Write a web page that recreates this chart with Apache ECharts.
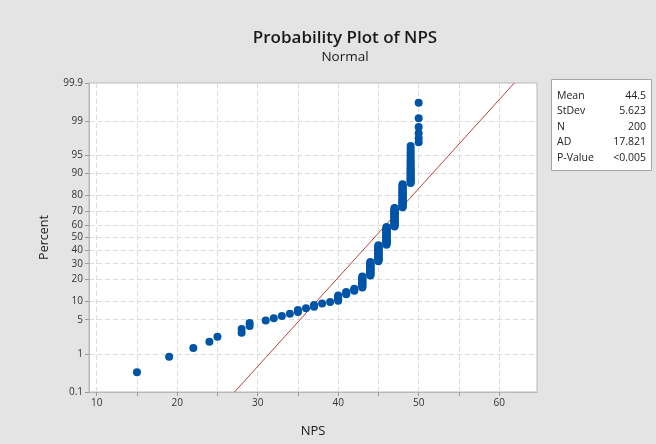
<!DOCTYPE html>
<html><head><meta charset="utf-8">
<script src="https://cdn.jsdelivr.net/npm/echarts@6/dist/echarts.min.js"></script>
<style>html,body{margin:0;padding:0;background:#e4e4e4}#c{width:656px;height:444px}</style>
</head><body><div id="c"></div>
<script>
// ---- data ----
const npsScores = [15,19,22,24,25,28,29,31,32,33,34,35,36,37,38,39,40,41,42,43,44,45,46,47,48,49,50];
const npsCounts = [1,1,1,1,1,2,2,1,1,1,1,2,1,2,1,1,5,3,3,13,19,25,29,28,27,22,6];
const percentTicks = [0.1,1,5,10,20,30,40,50,60,70,80,90,95,99,99.9];
const xTickValues = [10,15,20,25,30,35,40,45,50,55,60];
const xLabelValues = [10,20,30,40,50,60];
const statLabels = ['Mean','StDev','N','AD','P-Value'];
const statValues = ['44.5','5.623','200','17.821','<0.005'];
const fitMean = 44.5;
const fitStDev = 5.623;

// inverse standard normal CDF (Acklam)
function normInv(p){
  const a=[-3.969683028665376e+01,2.209460984245205e+02,-2.759285104469687e+02,1.383577518672690e+02,-3.066479806614716e+01,2.506628277459239e+00];
  const b=[-5.447609879822406e+01,1.615858368580409e+02,-1.556989798598866e+02,6.680131188771972e+01,-1.328068155288572e+01];
  const c=[-7.784894002430293e-03,-3.223964580411365e-01,-2.400758277161838e+00,-2.549732539343734e+00,4.374664141464968e+00,2.938163982698783e+00];
  const d=[7.784695709041462e-03,3.224671290700398e-01,2.445134137142996e+00,3.754408661907416e+00];
  const pl=0.02425, ph=1-pl; let q,r;
  if(p<pl){q=Math.sqrt(-2*Math.log(p));return (((((c[0]*q+c[1])*q+c[2])*q+c[3])*q+c[4])*q+c[5])/((((d[0]*q+d[1])*q+d[2])*q+d[3])*q+1);}
  if(p<=ph){q=p-0.5;r=q*q;return (((((a[0]*r+a[1])*r+a[2])*r+a[3])*r+a[4])*r+a[5])*q/(((((b[0]*r+b[1])*r+b[2])*r+b[3])*r+b[4])*r+1);}
  q=Math.sqrt(-2*Math.log(1-p));return -(((((c[0]*q+c[1])*q+c[2])*q+c[3])*q+c[4])*q+c[5])/((((d[0]*q+d[1])*q+d[2])*q+d[3])*q+1);
}

const n = npsCounts.reduce((s,v)=>s+v,0);
const points = [];
let rank = 0;
npsScores.forEach((s,k)=>{
  for(let j=0;j<npsCounts[k];j++){ rank++; points.push([s, normInv((rank-0.3)/(n+0.4))]); }
});
const yTickZ = percentTicks.map(p=>normInv(p/100));
const zMin = yTickZ[0], zMax = yTickZ[yTickZ.length-1];
const fitLine = [[fitMean+zMin*fitStDev, zMin],[fitMean+zMax*fitStDev, zMax]];

const FONT = '"Open Sans", "Noto Sans", sans-serif';
const chart = echarts.init(document.getElementById('c'), null, {renderer:'canvas'});

const statGraphics = [
  {type:'rect', shape:{x:551.5,y:79.5,width:100,height:91}, style:{fill:'#fff',stroke:'#a6a6a6',lineWidth:1}}
];
statLabels.forEach((l,i)=>{
  statGraphics.push({type:'text', x:557, y:96+i*15.5, style:{text:l, fill:'#222', font:'10.5px '+FONT, textVerticalAlign:'middle', textAlign:'left'}});
  statGraphics.push({type:'text', x:646, y:96+i*15.5, style:{text:statValues[i], fill:'#222', font:'10.5px '+FONT, textVerticalAlign:'middle', textAlign:'right'}});
});

chart.setOption({
  backgroundColor:'#e4e4e4',
  animation:false,
  title:{
    text:'Probability Plot of NPS', subtext:'Normal',
    left:340, top:25, textAlign:'center', itemGap:3,
    textStyle:{fontFamily:FONT, fontSize:17, fontWeight:600, color:'#1a1a1a'},
    subtextStyle:{fontFamily:FONT, fontSize:13.5, color:'#1a1a1a'}
  },
  grid:{left:89, right:119, top:83, bottom:52, show:true, backgroundColor:'#fff', borderColor:'#b9b9b9', borderWidth:1},
  xAxis:{
    type:'value', min:9.04, max:64.7,
    name:'NPS', nameLocation:'middle', nameGap:33,
    nameTextStyle:{fontFamily:FONT, fontSize:13, color:'#1a1a1a'},
    axisLine:{onZero:false, lineStyle:{color:'#b9b9b9'}},
    axisTick:{customValues:xTickValues, length:4, lineStyle:{color:'#9a9a9a'}},
    axisLabel:{customValues:xLabelValues, fontFamily:FONT, fontSize:10, color:'#333', margin:6},
    splitLine:{show:true, lineStyle:{color:'#dcdcdc', type:[5,3], width:1}}
  },
  yAxis:{
    type:'value', min:zMin, max:zMax,
    name:'Percent', nameLocation:'middle', nameGap:38,
    nameTextStyle:{fontFamily:FONT, fontSize:12.5, color:'#1a1a1a'},
    axisLine:{show:true, onZero:false, lineStyle:{color:'#b9b9b9'}},
    axisTick:{show:true, customValues:yTickZ, length:4, lineStyle:{color:'#9a9a9a'}},
    axisLabel:{customValues:yTickZ, fontFamily:FONT, fontSize:10, color:'#333', margin:6,
      formatter:(v)=>{ let best=0; yTickZ.forEach((z,i)=>{ if(Math.abs(z-v)<Math.abs(yTickZ[best]-v)) best=i; }); return String(percentTicks[best]); }},
    splitLine:{show:true, lineStyle:{color:'#dcdcdc', type:[5,3], width:1}}
  },
  series:[
    {type:'line', data:fitLine, symbol:'none', lineStyle:{color:'#b5443e', width:1}, clip:true, z:2},
    {type:'scatter', data:points, symbol:'circle', symbolSize:8, itemStyle:{color:'#0054a6', opacity:1}, z:3}
  ],
  graphic:statGraphics
});
</script>
</body></html>
